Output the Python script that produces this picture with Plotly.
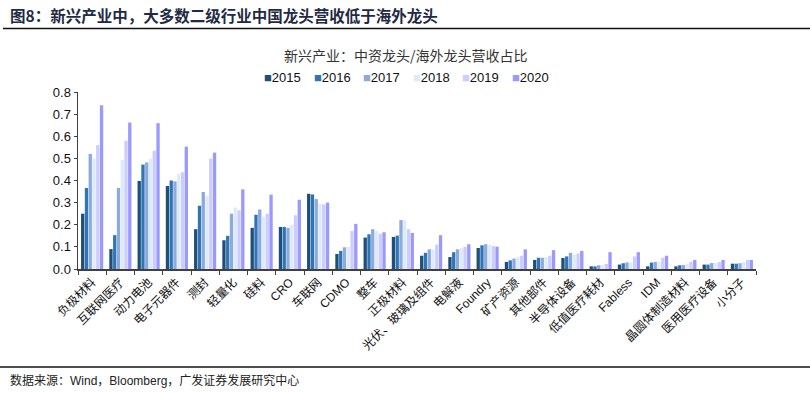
import plotly.graph_objects as go

categories = ["负极材料", "互联网医疗", "动力电池", "电子元器件", "测封", "轻量化", "硅料", "CRO",
              "车联网", "CDMO", "整车", "正极材料", "光伏、玻璃及组件", "电解液", "Foundry", "矿产资源",
              "其他部件", "半导体设备", "低值医疗耗材", "Fabless", "IDM", "晶圆体制造材料", "医用医疗设备", "小分子"]

years = ["2015", "2016", "2017", "2018", "2019", "2020"]

v2015 = [0.25, 0.09, 0.398, 0.375, 0.18, 0.13, 0.186, 0.19, 0.34, 0.068, 0.142, 0.145, 0.06, 0.054, 0.095, 0.032,
         0.041, 0.05, 0.012, 0.02, 0.012, 0.012, 0.02, 0.024]
v2016 = [0.366, 0.153, 0.472, 0.40, 0.286, 0.15, 0.245, 0.19, 0.337, 0.082, 0.157, 0.151, 0.073, 0.076, 0.107, 0.039,
         0.051, 0.057, 0.012, 0.026, 0.029, 0.017, 0.02, 0.024]
v2017 = [0.52, 0.366, 0.482, 0.396, 0.348, 0.25, 0.269, 0.186, 0.316, 0.098, 0.18, 0.221, 0.089, 0.089, 0.112, 0.047,
         0.051, 0.073, 0.017, 0.03, 0.032, 0.018, 0.027, 0.026]
v2018 = [0.50, 0.494, 0.499, 0.43, 0.331, 0.278, 0.237, 0.20, 0.295, 0.10, 0.172, 0.221, 0.089, 0.094, 0.11, 0.053,
         0.054, 0.065, 0.018, 0.03, 0.032, 0.024, 0.027, 0.032]
v2019 = [0.56, 0.58, 0.535, 0.437, 0.499, 0.265, 0.25, 0.243, 0.292, 0.172, 0.159, 0.18, 0.11, 0.10, 0.104, 0.06,
         0.06, 0.07, 0.023, 0.057, 0.051, 0.033, 0.032, 0.041]
v2020 = [0.74, 0.662, 0.659, 0.553, 0.526, 0.36, 0.336, 0.313, 0.30, 0.204, 0.166, 0.163, 0.153, 0.112, 0.101, 0.089,
         0.085, 0.082, 0.076, 0.076, 0.06, 0.041, 0.041, 0.041]

series = [v2015, v2016, v2017, v2018, v2019, v2020]
colors = ["#1F4E79", "#2E75B6", "#8EA9DB", "#DDEBF7", "#CCCCFF", "#9999FF"]

W, H = 810, 393
L, R, T, B = 78, 54, 92, 124
PW, PH = W - L - R, H - T - B


def px2x(p):
    return (p - L) / PW


def py2y(p):
    return (H - B - p) / PH


fig = go.Figure()
for name, vals, col in zip(years, series, colors):
    fig.add_trace(go.Bar(x=categories, y=vals, name=name, marker=dict(color=col, line=dict(width=0)),
                         showlegend=False, hoverinfo="skip"))

annotations = [
    dict(text="<b>图8：新兴产业中，大多数二级行业中国龙头营收低于海外龙头</b>", x=px2x(8), y=py2y(15),
         xref="paper", yref="paper", xanchor="left", yanchor="middle", showarrow=False,
         font=dict(family="Noto Sans CJK SC", size=15.5, color="#1F2A44")),
    dict(text="新兴产业：中资龙头/海外龙头营收占比", x=px2x(406), y=py2y(55),
         xref="paper", yref="paper", xanchor="center", yanchor="middle", showarrow=False,
         font=dict(family="Noto Sans CJK SC", size=14, color="#333333")),
    dict(text="数据来源：Wind，Bloomberg，广发证券发展研究中心", x=px2x(8), y=py2y(380),
         xref="paper", yref="paper", xanchor="left", yanchor="middle", showarrow=False,
         font=dict(family="Liberation Sans, Noto Sans CJK SC", size=12, color="#222222")),
]
for i, (name, col) in enumerate(zip(years, colors)):
    annotations.append(dict(
        text=f"<span style='color:{col}'>■</span>{name}", x=px2x(262 + i * 49.5), y=py2y(77),
        xref="paper", yref="paper", xanchor="left", yanchor="middle", showarrow=False,
        font=dict(family="Liberation Sans", size=13, color="#111111")))

shapes = [
    dict(type="line", xref="paper", yref="paper", x0=px2x(3), x1=px2x(810), y0=py2y(28.5), y1=py2y(28.5),
         line=dict(color="#111111", width=1.5)),
    dict(type="line", xref="paper", yref="paper", x0=px2x(0), x1=px2x(810), y0=py2y(367), y1=py2y(367),
         line=dict(color="#111111", width=1.5)),
]

fig.update_layout(
    width=W, height=H,
    margin=dict(l=L, r=R, t=T, b=B, pad=0),
    barmode="group", bargap=0.2, bargroupgap=0.12,
    plot_bgcolor="white", paper_bgcolor="white",
    hovermode=False,
    annotations=annotations, shapes=shapes,
    xaxis=dict(type="category", tickangle=-45, tickson="boundaries", ticks="outside", ticklen=4,
               tickcolor="#404040", showline=True, linecolor="#404040", linewidth=1.5, showgrid=False,
               tickfont=dict(family="Liberation Sans, Noto Sans CJK SC", size=12, color="#111111")),
    yaxis=dict(range=[0, 0.8], dtick=0.1, tickformat=".1f", ticks="outside", ticklen=3,
               tickcolor="#404040", showline=True, linecolor="#404040", linewidth=1.5, showgrid=False,
               zeroline=False,
               tickfont=dict(family="Liberation Sans", size=13, color="#111111")),
)

fig.write_html("out.html", config={"displayModeBar": False, "staticPlot": True},
               post_script="document.body.style.margin='0';document.body.style.overflow='hidden';")
